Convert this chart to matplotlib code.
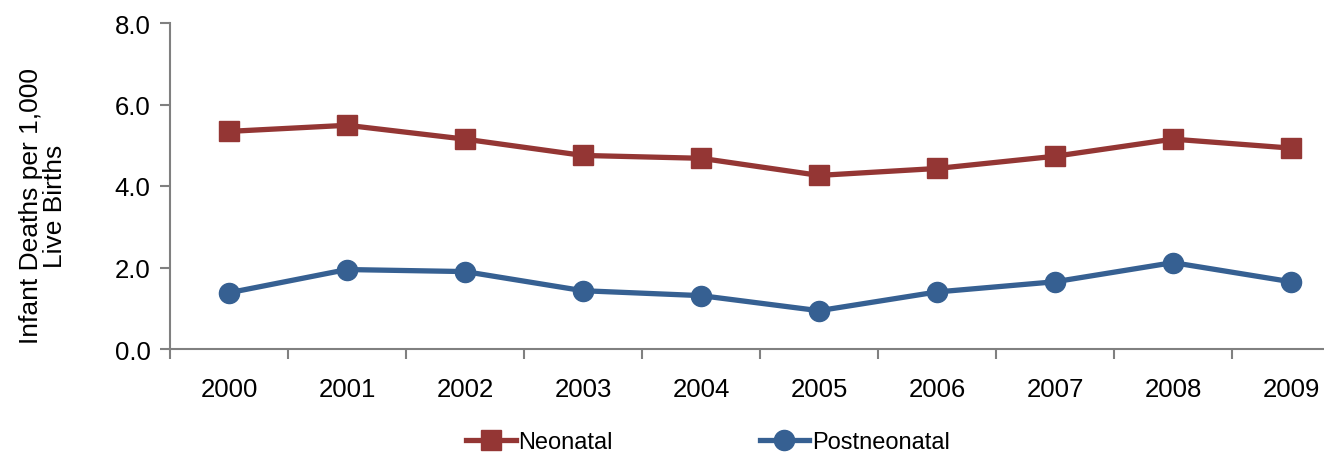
import matplotlib
matplotlib.use("Agg")
import matplotlib.pyplot as plt
import numpy as np

years = ["2000", "2001", "2002", "2003", "2004", "2005", "2006", "2007", "2008", "2009"]
neonatal = [5.34, 5.49, 5.15, 4.75, 4.68, 4.26, 4.43, 4.73, 5.15, 4.93]
postneonatal = [1.38, 1.95, 1.90, 1.43, 1.31, 0.94, 1.40, 1.65, 2.12, 1.65]
yticks = [0.0, 2.0, 4.0, 6.0, 8.0]

plt.rcParams['font.family'] = ['Liberation Sans', 'DejaVu Sans']

W, H = 1324, 456
fig = plt.figure(figsize=(W / 100, H / 100), dpi=100)
ax = fig.add_axes([170 / W, 1 - 350 / H, 1180 / W, 326 / H])

red = "#943634"
blue = "#366092"
x = np.arange(len(years))
ax.plot(x, neonatal, color=red, lw=3.8, marker="s", ms=14, label="Neonatal", clip_on=False)
ax.plot(x, postneonatal, color=blue, lw=3.8, marker="o", ms=14.5, label="Postneonatal", clip_on=False)

FS = 18.5
ax.set_xlim(-0.5, len(years) - 0.5)
ax.set_ylim(0, 8)
ax.set_yticks(yticks)
ax.set_yticklabels([f"{v:.1f}" for v in yticks], fontsize=FS)
ax.set_xticks(x)
ax.set_xticklabels(years, fontsize=FS)
ax.tick_params(axis="x", which="major", length=0, pad=20)
ax.set_xticks(np.arange(-0.5, len(years), 1.0), minor=True)
ax.tick_params(axis="x", which="minor", length=7, width=1.5, color="#808080", direction="out")
ax.tick_params(axis="y", length=7, width=1.5, color="#808080", direction="out", pad=7)

for s in ["top", "right"]:
    ax.spines[s].set_visible(False)
for s in ["left", "bottom"]:
    ax.spines[s].set_color("#808080")
    ax.spines[s].set_linewidth(1.5)

fig.text(43 / W, 1 - 206 / H, "Infant Deaths per 1,000\nLive Births", fontsize=19,
         rotation=90, ha="center", va="center", multialignment="center", linespacing=0.95)

leg = fig.legend(loc="center", bbox_to_anchor=(708 / W, 1 - 443 / H), ncol=2, frameon=False,
                 fontsize=17, handlelength=2.1, handletextpad=0.12, columnspacing=6.2, borderaxespad=0)

fig.savefig("out.png", dpi=100)
